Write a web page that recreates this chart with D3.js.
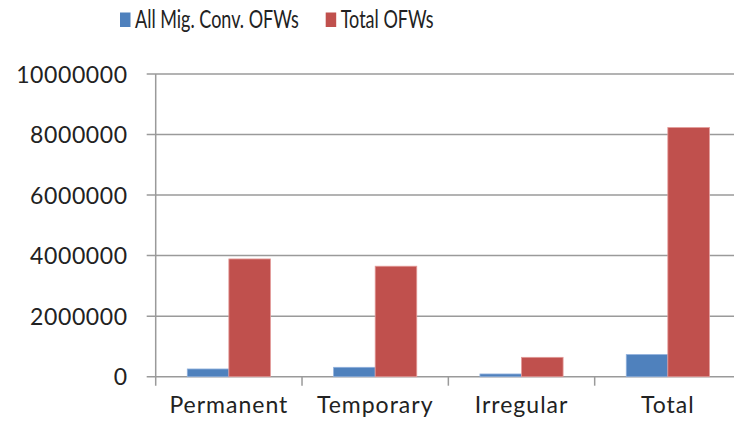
<!DOCTYPE html>
<html>
<head>
<meta charset="utf-8">
<script src="https://cdn.jsdelivr.net/npm/d3@7"></script>
<style>
  body { margin: 0; background: #fff; }
  text { font-family: Lato, "Open Sans", sans-serif; fill: #222; letter-spacing: 0.6px; }
</style>
</head>
<body>
<div id="chart"></div>
<script>

var categories = ["Permanent", "Temporary", "Irregular", "Total"];
var seriesNames = ["All Mig. Conv. OFWs", "Total OFWs"];
var migConv = [255000, 310000, 90000, 730000];
var totalOFWs = [3890000, 3650000, 640000, 8230000];
var yTicks = [0, 2000000, 4000000, 6000000, 8000000, 10000000];
var colors = ["#4F81BD", "#C0504D"];

var width = 734, height = 426;
var plotLeft = 155.7, plotRight = 741, plotTop = 74, plotBottom = 376.7;
var fontSize = "23px";

var svg = d3.select("#chart").append("svg")
    .attr("width", width)
    .attr("height", height);

var x = d3.scaleBand().domain(categories).range([plotLeft, plotRight]).padding(0);
var x1 = d3.scaleBand().domain(seriesNames).range([0, x.bandwidth()])
    .paddingInner(0).paddingOuter(0.76);
var y = d3.scaleLinear().domain([0, 10000000]).range([plotBottom, plotTop]);

// gridlines (with short ticks left of the axis)
svg.append("g").selectAll("line")
    .data(yTicks)
    .enter().append("line")
    .attr("x1", plotLeft - 9)
    .attr("x2", plotRight)
    .attr("y1", function (d) { return y(d); })
    .attr("y2", function (d) { return y(d); })
    .attr("stroke", "#9a9a9a")
    .attr("stroke-width", 1.5);

// y labels
var yAxis = d3.axisLeft(y).tickValues(yTicks).tickSize(0).tickPadding(28)
    .tickFormat(d3.format("d"));
var ya = svg.append("g")
    .attr("transform", "translate(" + plotLeft + ",0)")
    .call(yAxis);
ya.select(".domain").remove();
ya.selectAll("text").style("font-size", fontSize).attr("dy", "0.35em");

// bars
var rows = categories.map(function (c, i) {
  return { cat: c, values: [migConv[i], totalOFWs[i]] };
});

var groups = svg.append("g").selectAll("g")
    .data(rows)
    .enter().append("g")
    .attr("transform", function (d) { return "translate(" + x(d.cat) + ",0)"; });

groups.selectAll("rect")
    .data(function (d) { return d.values.map(function (v, j) { return { s: seriesNames[j], v: v, j: j }; }); })
    .enter().append("rect")
    .attr("x", function (d) { return x1(d.s); })
    .attr("width", x1.bandwidth())
    .attr("y", function (d) { return y(d.v); })
    .attr("height", function (d) { return plotBottom - y(d.v); })
    .attr("fill", function (d) { return colors[d.j]; })
    .attr("stroke", function (d) { return d.j === 0 ? "#8fb0dc" : "#e39a98"; })
    .attr("stroke-width", 0.8);

// y axis line
svg.append("line")
    .attr("x1", plotLeft).attr("x2", plotLeft)
    .attr("y1", plotTop).attr("y2", plotBottom + 9)
    .attr("stroke", "#9a9a9a")
    .attr("stroke-width", 1.5);

// category boundary ticks
svg.append("g").selectAll("line")
    .data(categories.slice(1))
    .enter().append("line")
    .attr("x1", function (d) { return x(d); })
    .attr("x2", function (d) { return x(d); })
    .attr("y1", plotBottom)
    .attr("y2", plotBottom + 9)
    .attr("stroke", "#9a9a9a")
    .attr("stroke-width", 1.5);

// category labels
var xAxis = d3.axisBottom(x).tickSize(0).tickPadding(28);
var xa = svg.append("g")
    .attr("transform", "translate(0," + plotBottom + ")")
    .call(xAxis);
xa.select(".domain").remove();
xa.selectAll("text").style("font-size", fontSize).attr("dy", "0.35em")
    .style("letter-spacing", "1px");

// legend (the legend text is drawn condensed in the original)
var legendX = [120, 325.7];
var legend = svg.append("g").selectAll("g")
    .data(seriesNames)
    .enter().append("g")
    .attr("transform", function (d, i) { return "translate(" + legendX[i] + ",0)"; });

legend.append("rect")
    .attr("x", 0).attr("y", 12.5)
    .attr("width", 10.5).attr("height", 14.5)
    .attr("fill", function (d, i) { return colors[i]; });

legend.append("text")
    .attr("transform", "translate(15,27.5) scale(0.72,1)")
    .style("font-size", "25px")
    .style("letter-spacing", "0px")
    .text(function (d) { return d; });
</script>
</body>
</html>
